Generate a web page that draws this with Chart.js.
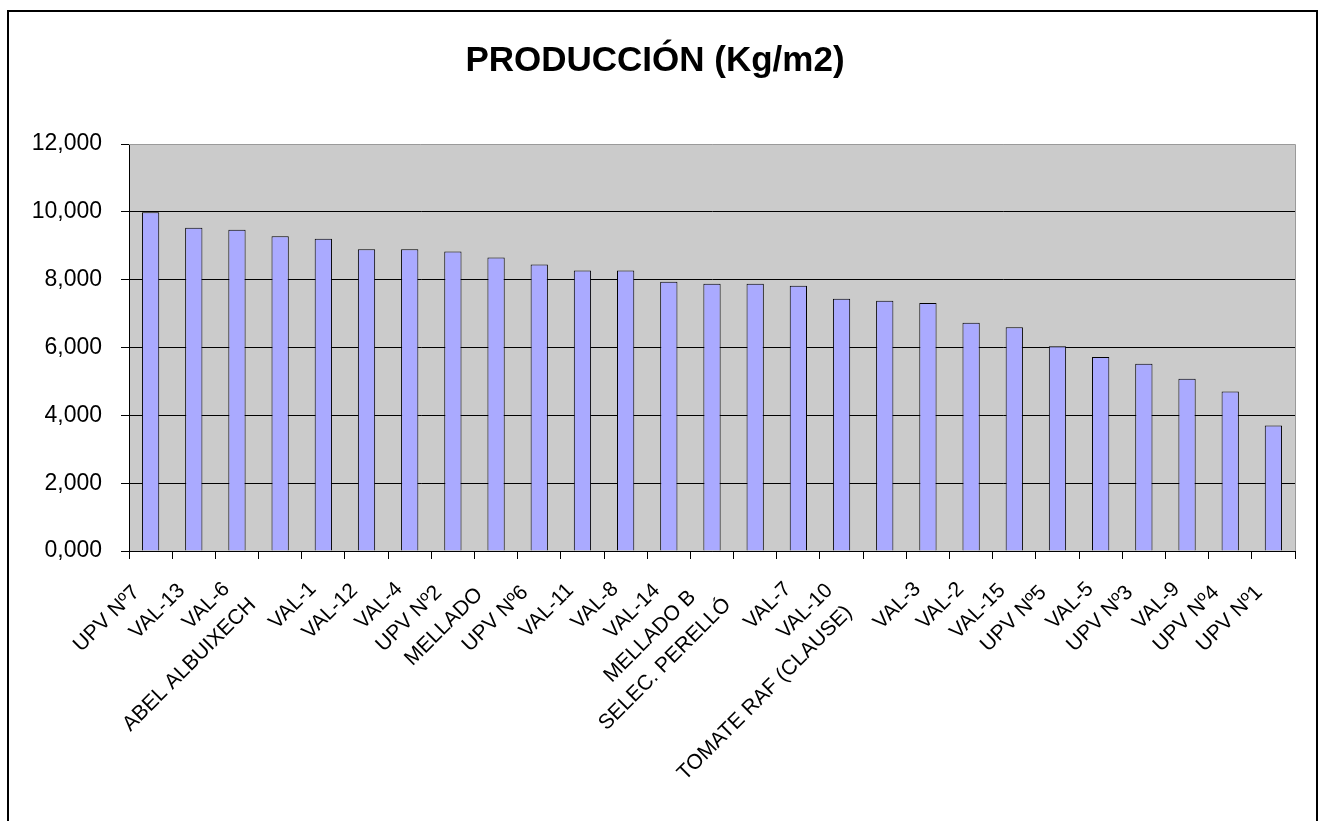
<!DOCTYPE html>
<html>
<head>
<meta charset="utf-8">
<script src="https://cdn.jsdelivr.net/npm/chart.js@4/dist/chart.umd.min.js"></script>
<style>
  html, body { margin: 0; padding: 0; background: #fff; overflow: hidden; }
  #wrap { position: relative; width: 1325px; height: 821px; }
  #frame { position: absolute; left: 7px; top: 10px; width: 1307px; height: 840px; border: 2px solid #000; pointer-events: none; }
  canvas { position: absolute; left: 0; top: 0; }
</style>
</head>
<body>
<div id="wrap">
  <canvas id="chart" width="1325" height="821"></canvas>
  <div id="frame"></div>
</div>
<script>
const variedades = [
  'UPV Nº7', 'VAL-13', 'VAL-6', 'ABEL ALBUIXECH', 'VAL-1', 'VAL-12', 'VAL-4',
  'UPV Nº2', 'MELLADO', 'UPV Nº6', 'VAL-11', 'VAL-8', 'VAL-14', 'MELLADO B',
  'SELEC. PERELLÓ', 'VAL-7', 'VAL-10', 'TOMATE RAF (CLAUSE)', 'VAL-3', 'VAL-2',
  'VAL-15', 'UPV Nº5', 'VAL-5', 'UPV Nº3', 'VAL-9', 'UPV Nº4', 'UPV Nº1'
]
const produccion = [
  9.99, 9.53, 9.47, 9.28, 9.21, 8.90, 8.90,
  8.83, 8.65, 8.45, 8.27, 8.27, 7.94, 7.88,
  7.88, 7.82, 7.44, 7.38, 7.31, 6.73,
  6.60, 6.04, 5.72, 5.52, 5.08, 4.70, 3.70
]
const yTicks = [0, 2, 4, 6, 8, 10, 12]

const font = '"Liberation Sans", Arial, sans-serif'

// fondo gris y bordes del area de trazado
const plotArea = {
  id: 'plotArea',
  beforeDraw(chart) {
    const { ctx, chartArea: a } = chart
    ctx.save()
    ctx.fillStyle = '#CBCBCB'
    ctx.fillRect(a.left, a.top, a.right - a.left, a.bottom - a.top)
    ctx.restore()
  },
  afterDatasetsDraw(chart) {
    const { ctx, chartArea: a } = chart
    ctx.save()
    ctx.strokeStyle = '#9a9a9a'
    ctx.lineWidth = 1
    ctx.beginPath()
    ctx.moveTo(a.left, a.top + 0.5)
    ctx.lineTo(a.right + 0.5, a.top + 0.5)
    ctx.lineTo(a.right + 0.5, a.bottom)
    ctx.stroke()
    ctx.restore()
  }
}

// etiquetas del eje X giradas 45º, colocadas como en Excel
const xLabels = {
  id: 'xLabels',
  afterDraw(chart) {
    const { ctx } = chart
    const xs = chart.scales.x
    ctx.save()
    ctx.font = '21px ' + font
    ctx.fillStyle = '#000'
    ctx.textAlign = 'right'
    ctx.textBaseline = 'top'
    variedades.forEach((label, i) => {
      const c = xs.getPixelForTick(i)
      const w = ctx.measureText(label).width
      const x = c - 10 - 0.14 * w
      const y = xs.top + 20 + 0.13 * w
      ctx.save()
      ctx.translate(x, y)
      ctx.rotate(-Math.PI / 4)
      ctx.fillText(label, 0, 0)
      ctx.restore()
    })
    ctx.restore()
  }
}

new Chart(document.getElementById('chart'), {
  type: 'bar',
  data: {
    labels: variedades,
    datasets: [{
      data: produccion,
      backgroundColor: '#AAAAFF',
      borderColor: '#000',
      borderWidth: 1,
      barPercentage: 0.4,
      categoryPercentage: 1.0
    }]
  },
  options: {
    responsive: false,
    animation: false,
    layout: { padding: { left: 15, right: 30, top: 0, bottom: 0 } },
    plugins: {
      legend: { display: false },
      tooltip: { enabled: false },
      title: {
        display: true,
        text: 'PRODUCCIÓN (Kg/m2)',
        color: '#000',
        font: { family: font, size: 35, weight: 'bold' },
        padding: { top: 40, bottom: 62 }
      }
    },
    scales: {
      x: {
        afterFit(scale) { scale.height = 270 },
        grid: {
          drawOnChartArea: false,
          drawTicks: true,
          tickLength: 8,
          color: '#000'
        },
        border: { color: '#000', width: 1 },
        ticks: { display: false, autoSkip: false }
      },
      y: {
        min: 0,
        max: 12,
        afterFit(scale) { scale.width = 114 },
        afterBuildTicks(scale) { scale.ticks = yTicks.map(v => ({ value: v })) },
        grid: {
          color: ctx => (ctx.tick && ctx.tick.value === 12 ? 'rgba(0,0,0,0)' : '#000'),
          tickColor: '#000',
          tickLength: 8
        },
        border: { color: '#000', width: 1 },
        ticks: {
          color: '#000',
          padding: 19,
          font: { family: font, size: 23 },
          callback: v => v.toFixed(3).replace('.', ',')
        }
      }
    }
  },
  plugins: [plotArea, xLabels]
})
</script>
</body>
</html>
